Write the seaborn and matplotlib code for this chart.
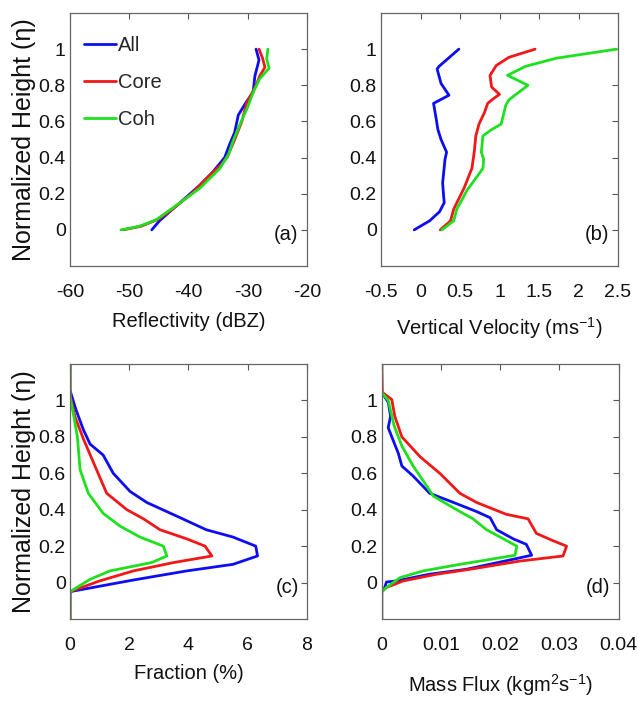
import matplotlib
matplotlib.use("Agg")
import matplotlib.pyplot as plt
from matplotlib import font_manager
from matplotlib.ticker import FormatStrFormatter
import pandas as pd
import seaborn as sns

sns.set_style("white")

installed = {f.name for f in font_manager.fontManager.ttflist}
narrow = "Liberation Sans Narrow" if "Liberation Sans Narrow" in installed else "Liberation Sans"
plt.rcParams["font.family"] = [narrow, "DejaVu Sans"]
plt.rcParams["mathtext.default"] = "regular"

groups = ["All", "Core", "Coh"]
colors = {"All": "#0d0df2", "Core": "#f01818", "Coh": "#1fe01f"}

# (a) reflectivity (dBZ) vs normalized height
all_a_x = [-46.2, -44.9, -42.5, -40.4, -38.0, -35.9, -33.9, -33.1, -32.2, -31.6, -30.2, -29.1, -28.8, -28.1, -28.6]
all_a_y = [0, 0.05, 0.12, 0.18, 0.25, 0.32, 0.40, 0.47, 0.54, 0.635, 0.71, 0.76, 0.85, 0.94, 1.0]
core_a_x = [-51.0, -48.0, -45.0, -42.5, -39.5, -36.5, -34.5, -33.5, -32.2, -31.0, -30.2, -28.6, -28.0, -27.1, -27.5, -28.1]
core_a_y = [0, 0.02, 0.06, 0.12, 0.2, 0.3, 0.36, 0.4, 0.5, 0.6, 0.7, 0.8, 0.85, 0.9, 0.95, 1.0]
coh_a_x = [-51.4, -48.3, -45.5, -42.7, -38.1, -34.7, -33.2, -32.5, -31.1, -30.0, -29.1, -28.0, -26.4, -26.8, -26.6]
coh_a_y = [0, 0.02, 0.055, 0.12, 0.23, 0.34, 0.42, 0.49, 0.60, 0.68, 0.76, 0.835, 0.895, 0.945, 1.0]

# (b) vertical velocity (m/s)
all_b_x = [-0.08, 0.115, 0.24, 0.30, 0.29, 0.28, 0.31, 0.33, 0.26, 0.22, 0.20, 0.165, 0.36, 0.26, 0.21, 0.235, 0.485]
all_b_y = [0, 0.05, 0.10, 0.15, 0.20, 0.26, 0.39, 0.43, 0.50, 0.555, 0.61, 0.70, 0.745, 0.81, 0.89, 0.905, 1.0]
core_b_x = [0.25, 0.38, 0.42, 0.55, 0.65, 0.68, 0.70, 0.74, 0.81, 0.85, 0.92, 1.0, 0.90, 0.88, 0.96, 1.12, 1.45]
core_b_y = [0, 0.05, 0.115, 0.23, 0.34, 0.43, 0.52, 0.585, 0.65, 0.70, 0.725, 0.75, 0.79, 0.855, 0.91, 0.955, 1.0]
coh_b_x = [0.27, 0.42, 0.46, 0.59, 0.79, 0.80, 0.77, 0.79, 0.90, 1.02, 1.08, 1.12, 1.36, 1.10, 1.33, 1.72, 2.48]
coh_b_y = [0, 0.05, 0.115, 0.22, 0.34, 0.39, 0.43, 0.52, 0.555, 0.585, 0.69, 0.72, 0.80, 0.855, 0.905, 0.95, 1.0]

# (c) fraction (%)
all_c_x = [0, 0, 2.14, 3.94, 5.5, 6.33, 6.27, 5.5, 4.6, 3.6, 2.59, 2.03, 1.46, 1.12, 0.68, 0.45, 0.2, 0.03, 0, 0]
all_c_y = [-0.2, -0.05, 0.014, 0.064, 0.10, 0.146, 0.20, 0.25, 0.29, 0.365, 0.44, 0.50, 0.60, 0.70, 0.76, 0.84, 0.95, 1.04, 1.06, 1.2]
core_c_x = [0, 0, 1.0, 2.14, 3.5, 4.79, 4.56, 3.94, 3.04, 2.48, 1.92, 1.24, 0.79, 0.45, 0.17, 0, 0]
core_c_y = [-0.2, -0.05, 0.009, 0.064, 0.11, 0.146, 0.20, 0.24, 0.29, 0.35, 0.40, 0.49, 0.66, 0.79, 0.91, 1.03, 1.2]
coh_c_x = [0, 0, 0.68, 1.35, 2.76, 3.27, 3.15, 2.36, 1.69, 1.12, 0.62, 0.34, 0.25, 0.11, 0, 0]
coh_c_y = [-0.2, -0.05, 0.018, 0.064, 0.11, 0.146, 0.20, 0.25, 0.31, 0.38, 0.49, 0.62, 0.80, 0.93, 1.02, 1.2]

# (d) mass flux
all_d_x = [0, 0, 0.0004, 0.0008, 0.0025, 0.0081, 0.0143, 0.0222, 0.0253, 0.0244, 0.0222, 0.0194, 0.0183, 0.016,
           0.0121, 0.0081, 0.0053, 0.0034, 0.0028, 0.0017, 0.0011, 0.0015, 0.0011, 0, 0]
all_d_y = [-0.2, -0.05, -0.037, 0.003, 0.009, 0.046, 0.073, 0.128, 0.15, 0.21, 0.24, 0.29, 0.356, 0.39,
           0.44, 0.49, 0.585, 0.64, 0.71, 0.80, 0.85, 0.914, 0.99, 1.045, 1.2]
core_d_x = [0, 0, 0.0008, 0.0036, 0.0093, 0.0149, 0.0233, 0.0306, 0.0312, 0.0289, 0.0261, 0.0247, 0.021, 0.016,
            0.0132, 0.0098, 0.0065, 0.0034, 0.0022, 0.0017, 0.0001, 0]
core_d_y = [-0.2, -0.05, -0.027, 0.009, 0.046, 0.073, 0.118, 0.146, 0.20, 0.23, 0.27, 0.35, 0.375, 0.44,
            0.49, 0.60, 0.69, 0.80, 0.914, 1.005, 1.045, 1.2]
coh_d_x = [0, 0, 0.0008, 0.0031, 0.007, 0.0132, 0.0225, 0.0228, 0.0211, 0.0177, 0.0154, 0.0121, 0.0087, 0.0076,
           0.0053, 0.0034, 0.0021, 0.0011, 0, 0]
coh_d_y = [-0.2, -0.05, -0.027, 0.027, 0.064, 0.10, 0.15, 0.20, 0.23, 0.29, 0.35, 0.41, 0.475, 0.53,
           0.64, 0.75, 0.86, 1.0, 1.045, 1.2]

yticks = [0, 0.2, 0.4, 0.6, 0.8, 1]
xticks_a = [-60, -50, -40, -30, -20]
xticks_b = [-0.5, 0, 0.5, 1, 1.5, 2, 2.5]
xticks_c = [0, 2, 4, 6, 8]
xticks_d = [0, 0.01, 0.02, 0.03, 0.04]


def make_df(xs, ys):
    # long-form frame, one row per point, keeping the drawing order
    frames = []
    for g, x, y in zip(groups, xs, ys):
        frames.append(pd.DataFrame({"value": x, "height": y, "group": g}))
    return pd.concat(frames, ignore_index=True)


panels = [
    ("a", make_df([all_a_x, core_a_x, coh_a_x], [all_a_y, core_a_y, coh_a_y]), xticks_a,
     "Reflectivity (dBZ)", [0.1097, 0.6216, 0.3715, 0.3599], 8),
    ("b", make_df([all_b_x, core_b_x, coh_b_x], [all_b_y, core_b_y, coh_b_y]), xticks_b,
     "Vertical Velocity (ms$^{-1}$)", [0.5972, 0.6216, 0.3715, 0.3599], 10),
    ("c", make_df([all_c_x, core_c_x, coh_c_x], [all_c_y, core_c_y, coh_c_y]), xticks_c,
     "Fraction (%)", [0.1097, 0.1195, 0.3715, 0.3627], 7),
    ("d", make_df([all_d_x, core_d_x, coh_d_x], [all_d_y, core_d_y, coh_d_y]), xticks_d,
     "Mass Flux (kgm$^2$s$^{-1}$)", [0.5983, 0.1195, 0.3715, 0.3627], 13),
]

fig = plt.figure(figsize=(6.38, 7.03), dpi=100)

for name, df, xticks, xlabel, pos, lpad in panels:
    ax = fig.add_axes(pos)
    sns.lineplot(data=df, x="value", y="height", hue="group", hue_order=groups, palette=colors,
                 sort=False, estimator=None, units="group", linewidth=2.0, legend=(name == "a"), ax=ax)
    ax.set_xlim(xticks[0], xticks[-1])
    ax.set_ylim(-0.2, 1.2)
    ax.set_xticks(xticks)
    ax.set_yticks(yticks)
    ax.xaxis.set_major_formatter(FormatStrFormatter("%g"))
    ax.yaxis.set_major_formatter(FormatStrFormatter("%g"))
    ax.tick_params(direction="in", top=True, right=True, length=4, width=0.8, color="#555555",
                   labelsize=14, labelcolor="#111111")
    ax.tick_params(axis="x", pad=13)
    ax.tick_params(axis="y", pad=3)
    for sp in ax.spines.values():
        sp.set_color("#666666")
        sp.set_linewidth(0.9)
    ax.set_xlabel(xlabel, fontsize=14.5, labelpad=lpad, color="#111111")
    if name in ("a", "c"):
        ax.set_ylabel("Normalized Height (\u03b7)", fontsize=18, labelpad=2, color="#111111",
                      family=["Liberation Sans", "DejaVu Sans"])
    else:
        ax.set_ylabel("")
    ax.text(0.965, 0.125, "(%s)" % name, transform=ax.transAxes, ha="right", va="center",
            fontsize=14.5, color="#111111")
    if name == "a":
        handles, labels = ax.get_legend_handles_labels()
        ax.legend(handles, labels, loc="upper left", bbox_to_anchor=(0.0, 0.965), frameon=False,
                  fontsize=14.5, handlelength=1.6, handletextpad=0.1, labelspacing=0.9,
                  borderaxespad=0.3)

fig.savefig("out.png", dpi=100)
